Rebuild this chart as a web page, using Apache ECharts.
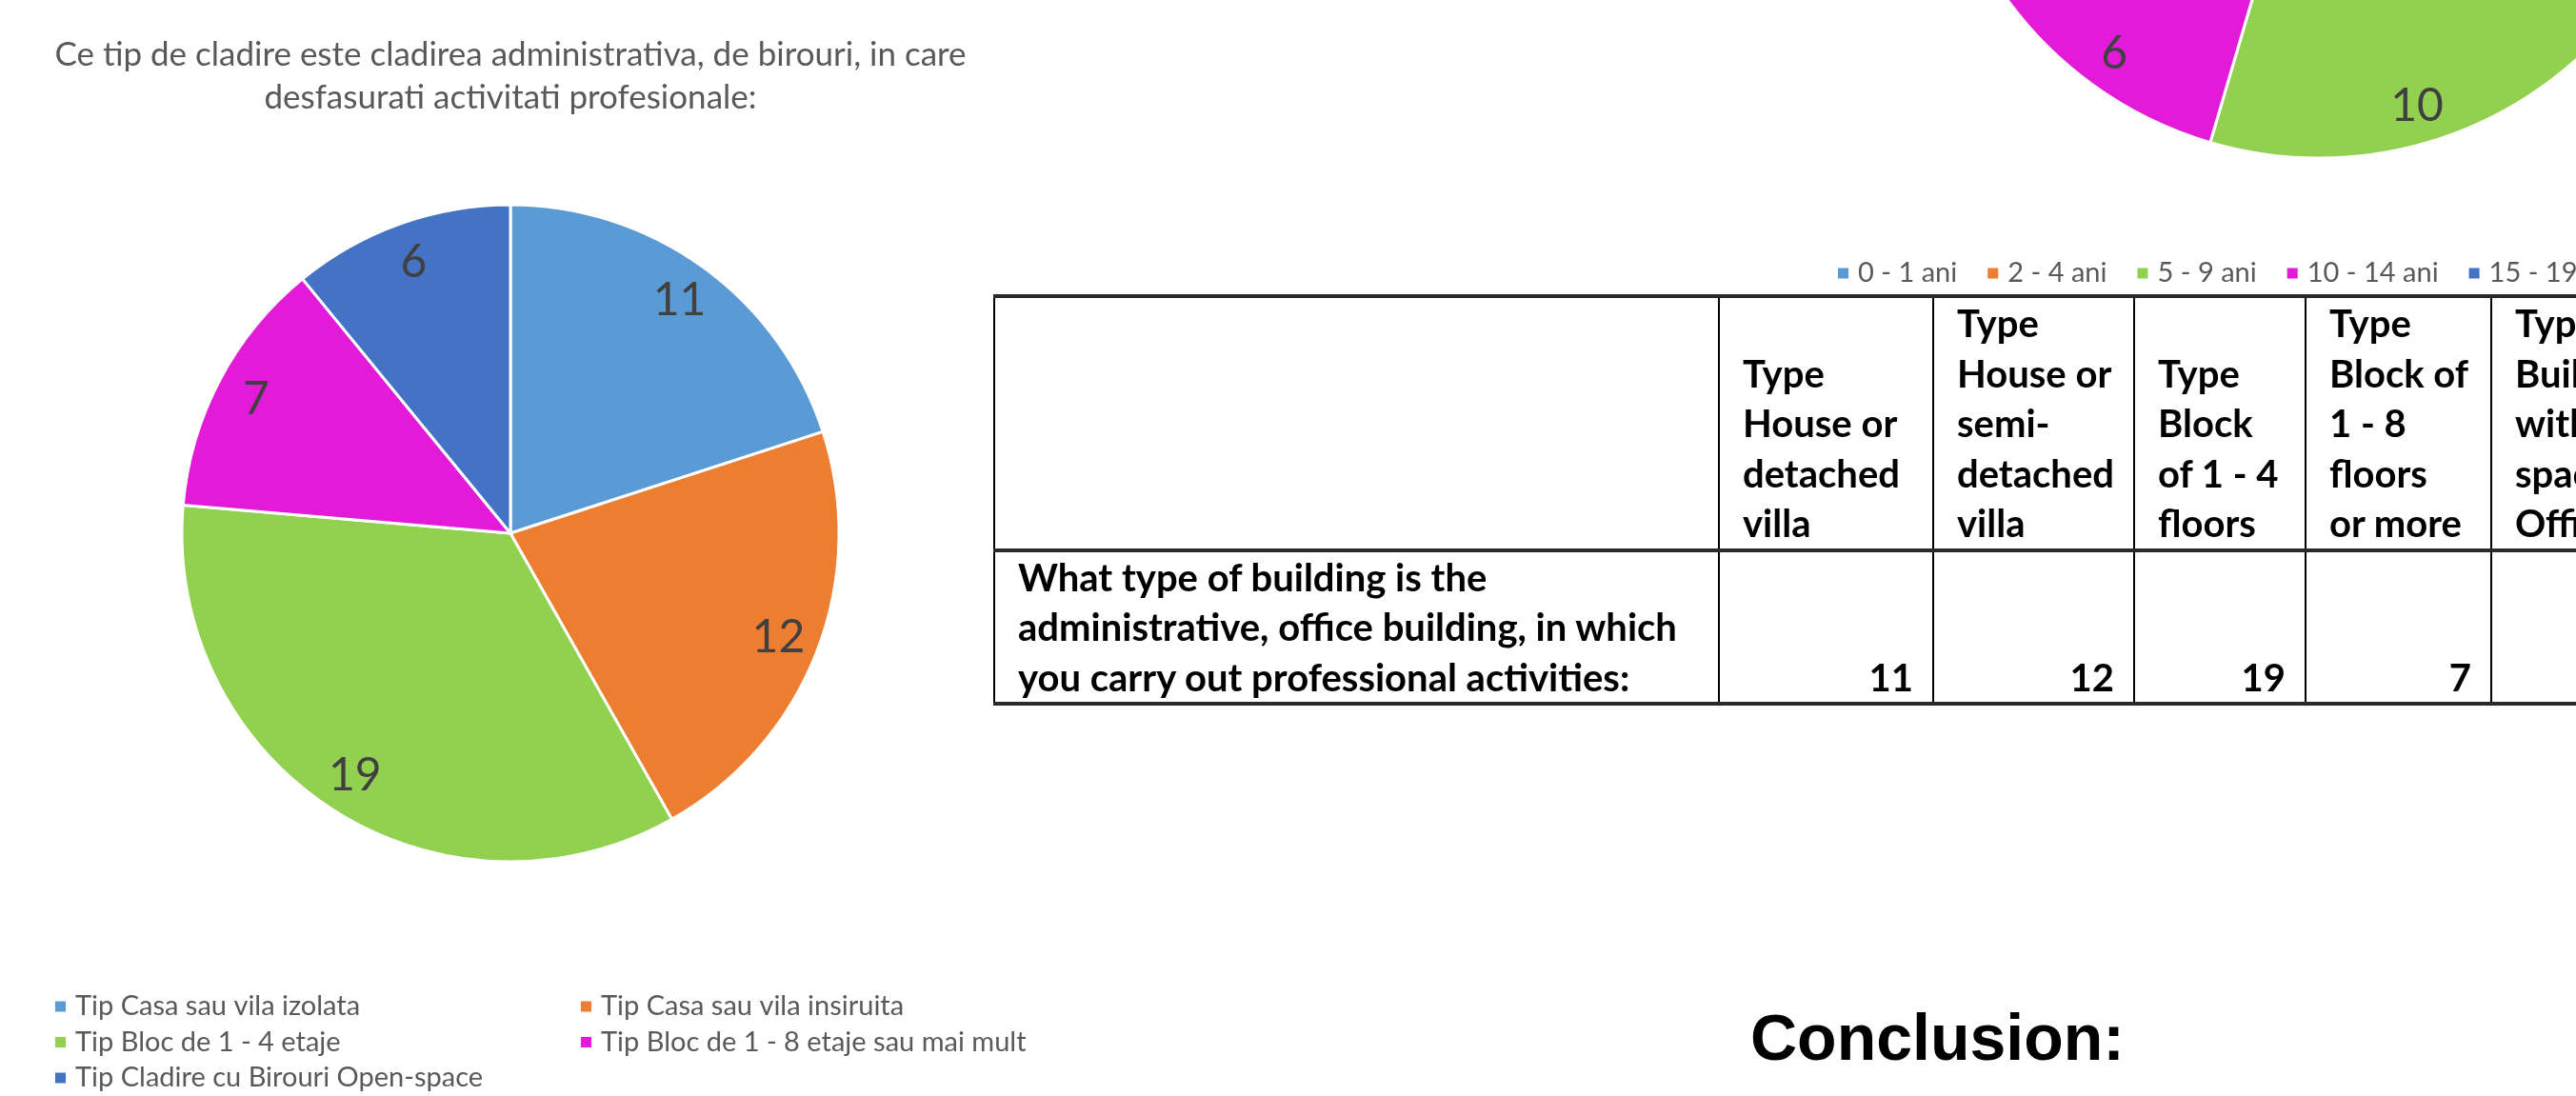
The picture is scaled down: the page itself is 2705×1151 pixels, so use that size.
<!DOCTYPE html>
<html>
<head>
<meta charset="utf-8">
<script src="https://cdn.jsdelivr.net/npm/echarts@6/dist/echarts.min.js"></script>
<style>
html,body{margin:0;padding:0;width:2705px;height:1151px;overflow:hidden;background:#fff;}
#c1{position:absolute;left:-128px;top:0;width:1328px;height:1151px;}
#c2{position:absolute;left:1735px;top:0;width:1400px;height:305px;}
#tbl{position:absolute;left:1043px;top:309px;border-collapse:collapse;table-layout:fixed;width:1772px;
  font-family:Lato,"Open Sans",sans-serif;font-weight:700;font-size:40px;line-height:52.5px;color:#000;}
#tbl th,#tbl td{border-left:2px solid #000;border-right:2px solid #000;padding:0 4px 0 24px;vertical-align:bottom;white-space:pre;overflow:hidden;}
#tbl tr.h th{border-top:4px solid #2a2a2a;border-bottom:4px solid #2a2a2a;height:262px;text-align:left;font-weight:700;}
#tbl tr.d td{border-bottom:4px solid #2a2a2a;height:157px;text-align:right;padding-right:20px;}
#tbl tr.d td.lab{text-align:left;padding-right:4px;}
#concl{position:absolute;left:1838px;top:1055px;font-family:"Liberation Sans",Arial,sans-serif;font-weight:700;font-size:68px;line-height:68px;color:#000;}
</style>
</head>
<body>
<div id="c1"></div>
<div id="c2"></div>
<table id="tbl"></table>
<div id="concl"></div>
<script>
// ---- data ----
const chartTitle = 'Ce tip de cladire este cladirea administrativa, de birouri, in care\ndesfasurati activitati profesionale:';
const buildingTypes = ['Tip Casa sau vila izolata', 'Tip Casa sau vila insiruita', 'Tip Bloc de 1 - 4 etaje', 'Tip Bloc de 1 - 8 etaje sau mai mult', 'Tip Cladire cu Birouri Open-space'];
const buildingCounts = [11, 12, 19, 7, 6];
const ageGroups = ['0 - 1 ani', '2 - 4 ani', '5 - 9 ani', '10 - 14 ani', '15 - 19 ani', 'peste 20 ani'];
const ageCounts = [9, 11, 10, 6, 12, 7];
const tableHeaders = ['Type\nHouse or\ndetached\nvilla', 'Type\nHouse or\nsemi-\ndetached\nvilla', 'Type\nBlock\nof 1 - 4\nfloors', 'Type\nBlock of\n1 - 8\nfloors\nor more', 'Type\nBuilding\nwith open-\nspace\nOffices'];
const tableRowLabel = 'What type of building is the\nadministrative, office building, in which\nyou carry out professional activities:';
const tableValues = [11, 12, 19, 7, 6];
const conclusionText = 'Conclusion:';

// ---- styles ----
const palette = ['#5B9BD5', '#ED7D31', '#92D050', '#E31BD9', '#4472C4', '#A5A5A5'];
const FONT = 'Lato';
const legendText = {fontFamily: FONT, fontSize: 29, lineHeight: 30, color: '#595959', padding: [0, 0, 0, 4]};

// ---- chart 1 (div shifted by -128px so its centre sits over the pie) ----
const c1 = echarts.init(document.getElementById('c1'), null, {renderer: 'canvas'});
const pie1Data = buildingTypes.map((n, i) => ({name: n, value: buildingCounts[i], itemStyle: {color: palette[i]}}));
c1.setOption({
  animation: false,
  title: {
    text: chartTitle, left: 'center', top: 30,
    textStyle: {fontFamily: FONT, fontWeight: 'normal', fontSize: 35, lineHeight: 45, color: '#595959'}
  },
  legend: [
    {orient: 'vertical', left: 184, top: 1042, padding: 0, itemWidth: 13, itemHeight: 13, itemGap: 7.5, icon: 'rect',
     data: [buildingTypes[0], buildingTypes[2], buildingTypes[4]], textStyle: legendText},
    {orient: 'vertical', left: 736, top: 1042, padding: 0, itemWidth: 13, itemHeight: 13, itemGap: 7.5, icon: 'rect',
     data: [buildingTypes[1], buildingTypes[3]], textStyle: legendText}
  ],
  series: [
    {type: 'pie', center: ['50%', 560], radius: [0, 345], startAngle: 90, clockwise: true,
     avoidLabelOverlap: false, silent: true,
     itemStyle: {borderColor: '#fff', borderWidth: 3},
     label: {show: false}, labelLine: {show: false},
     data: pie1Data},
    {type: 'pie', center: ['50%', 560], radius: [253, 345], startAngle: 90, clockwise: true,
     avoidLabelOverlap: false, silent: true,
     itemStyle: {color: 'rgba(0,0,0,0)', borderWidth: 0},
     label: {show: true, position: 'inside', formatter: '{c}', fontFamily: FONT, fontSize: 48, color: '#404040'},
     labelLine: {show: false},
     data: buildingTypes.map((n, i) => ({name: n, value: buildingCounts[i]}))}
  ]
});

// ---- chart 2 (partially outside the page) ----
const c2 = echarts.init(document.getElementById('c2'), null, {renderer: 'canvas'});
c2.setOption({
  animation: false,
  legend: {
    left: 193, top: 272, padding: 0, itemWidth: 13, itemHeight: 13, itemGap: 30, icon: 'rect',
    data: ageGroups, textStyle: legendText
  },
  series: [
    {type: 'pie', center: [700, -239], radius: [0, 405], startAngle: 90, clockwise: true,
     avoidLabelOverlap: false, silent: true,
     itemStyle: {borderColor: '#fff', borderWidth: 3},
     label: {show: false}, labelLine: {show: false},
     data: ageGroups.map((n, i) => ({name: n, value: ageCounts[i], itemStyle: {color: palette[i]}}))},
    {type: 'pie', center: [700, -239], radius: [320, 405], startAngle: 90, clockwise: true,
     avoidLabelOverlap: false, silent: true,
     itemStyle: {color: 'rgba(0,0,0,0)', borderWidth: 0},
     label: {show: true, position: 'inside', formatter: '{c}', fontFamily: FONT, fontSize: 48, color: '#404040'},
     labelLine: {show: false},
     data: ageGroups.map((n, i) => ({name: n, value: ageCounts[i]}))}
  ]
});

// ---- data table ----
(function buildTable() {
  const t = document.getElementById('tbl');
  const widths = [761, 225, 211, 180, 195, 200];
  const cg = document.createElement('colgroup');
  widths.forEach(w => { const c = document.createElement('col'); c.style.width = w + 'px'; cg.appendChild(c); });
  t.appendChild(cg);
  const h = document.createElement('tr'); h.className = 'h';
  h.appendChild(document.createElement('th'));
  tableHeaders.forEach(txt => { const th = document.createElement('th'); th.textContent = txt; h.appendChild(th); });
  t.appendChild(h);
  const d = document.createElement('tr'); d.className = 'd';
  const lab = document.createElement('td'); lab.className = 'lab'; lab.textContent = tableRowLabel; d.appendChild(lab);
  tableValues.forEach(v => { const td = document.createElement('td'); td.textContent = String(v); d.appendChild(td); });
  t.appendChild(d);
})();
document.getElementById('concl').textContent = conclusionText;
</script>
</body>
</html>
